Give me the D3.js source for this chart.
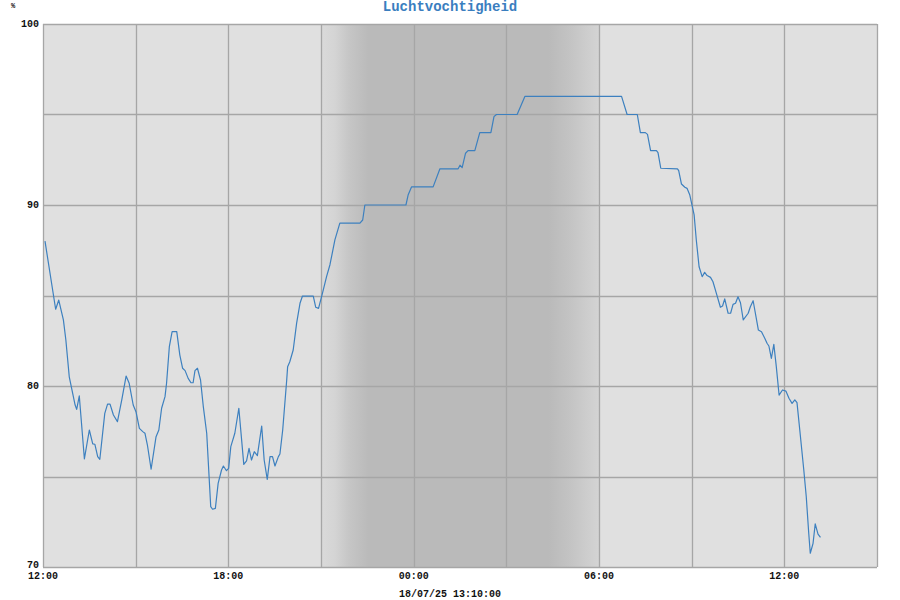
<!DOCTYPE html>
<html>
<head>
<meta charset="utf-8">
<script src="https://cdn.jsdelivr.net/npm/d3@7"></script>
<style>
  html, body { margin: 0; padding: 0; background: #ffffff; }
  svg { display: block; }
  text { font-family: "Liberation Mono", "DejaVu Sans Mono", monospace; font-weight: bold; }
</style>
</head>
<body>
<svg id="chart" width="900" height="600"></svg>
<script>
// ---- data ----
const title = "Luchtvochtigheid";
const unitLabel = "%";
const footerLabel = "18/07/25 13:10:00";
const startTime = "2025-07-17T12:00:00";
const endTime = "2025-07-18T15:00:00";
const nightStart = "2025-07-17T21:00:00";
const nightEnd = "2025-07-18T06:00:00";
const yTicks = [70, 80, 90, 100];
const yGrid = [70, 75, 80, 85, 90, 95, 100];
// hours since 17/07 12:00
const hours = [
  0.065, 0.41, 0.51, 0.66, 0.74, 0.85, 1.04, 1.09, 1.175, 1.34,
  1.50, 1.61, 1.68, 1.77, 1.84, 2.00, 2.09, 2.17, 2.28, 2.41,
  2.55, 2.69, 2.79, 2.92, 3.01, 3.12, 3.23, 3.30, 3.38, 3.50,
  3.66, 3.75, 3.84, 3.95, 4.00, 4.09, 4.18, 4.33, 4.43, 4.52,
  4.60, 4.70, 4.79, 4.86, 4.92, 5.00, 5.10, 5.19, 5.30, 5.43,
  5.49, 5.58, 5.67, 5.78, 5.84, 5.94, 6.01, 6.08, 6.21, 6.34,
  6.50, 6.59, 6.67, 6.75, 6.84, 6.94, 7.08, 7.16, 7.26, 7.35,
  7.43, 7.51, 7.62, 7.67, 7.76, 7.89, 7.92, 7.99, 8.10, 8.21,
  8.32, 8.40, 8.75, 8.83, 8.92, 9.05, 9.18, 9.29, 9.45, 9.61,
  10.26, 10.35, 10.42, 11.75, 11.82, 11.93, 12.63, 12.85, 13.44, 13.50,
  13.57, 13.68, 13.76, 13.98, 14.14, 14.50, 14.60, 14.68, 15.35, 15.60,
  18.73, 18.91, 19.24, 19.34, 19.50, 19.57, 19.67, 19.86, 19.91, 20.00,
  20.54, 20.58, 20.67, 20.78, 20.85, 20.94, 21.08, 21.15, 21.24, 21.34,
  21.42, 21.50, 21.61, 21.69, 21.80, 21.93, 22.00, 22.07, 22.18, 22.26,
  22.34, 22.42, 22.50, 22.58, 22.67, 22.83, 22.90, 22.99, 23.16, 23.26,
  23.37, 23.44, 23.50, 23.58, 23.66, 23.74, 23.83, 23.94, 24.05, 24.15,
  24.25, 24.34, 24.41, 24.50, 24.63, 24.71, 24.79, 24.84, 24.93, 25.00,
  25.09, 25.17
];
const humidity = [
  88.0, 84.24, 84.75, 83.65, 82.54, 80.51, 78.95, 78.71, 79.45, 75.97,
  77.57, 76.8, 76.78, 76.1, 75.95, 78.49, 79.0, 79.0, 78.4, 78.03,
  79.23, 80.55, 80.15, 78.95, 78.58, 77.66, 77.48, 77.39, 76.74, 75.4,
  77.2, 77.57, 78.77, 79.41, 80.15, 82.17, 83.0, 83.0, 81.71, 80.98,
  80.85, 80.42, 80.18, 80.18, 80.85, 80.98, 80.33, 78.86, 77.39, 73.33,
  73.19, 73.24, 74.62, 75.36, 75.58, 75.32, 75.45, 76.65, 77.39, 78.77,
  75.67, 75.86, 76.56, 75.91, 76.37, 76.15, 77.79, 75.91, 74.84, 76.10,
  76.10, 75.58, 76.1, 76.24, 77.57, 80.33, 81.07, 81.34, 81.99, 83.46,
  84.57, 84.97, 84.97, 84.35, 84.29, 85.15, 86.04, 86.7, 88.07, 89.0,
  89.0, 89.17, 90.0, 90.0, 90.55, 91.0, 91.0, 92.0, 92.0, 92.2,
  92.06, 92.86, 93.0, 93.0, 94.0, 94.0, 94.88, 95.0, 95.0, 96.0,
  96.0, 95.0, 95.0, 94.0, 94.0, 93.9, 93.0, 93.0, 92.89, 92.03,
  92.0, 91.9, 91.16, 90.98, 90.92, 90.55, 89.45, 88.07, 86.59, 86.04,
  86.28, 86.1, 86.0, 85.76, 85.12, 84.35, 84.42, 84.81, 84.02, 84.02,
  84.51, 84.57, 84.93, 84.6, 83.65, 84.02, 84.38, 84.71, 83.09, 83.0,
  82.63, 82.36, 82.21, 81.53, 82.3, 81.07, 79.5, 79.78, 79.72, 79.32,
  79.04, 79.23, 79.08, 77.57, 75.36, 73.88, 71.86, 70.76, 71.31, 72.38,
  71.82, 71.64
];

// ---- chart ----
const W = 900, H = 600;
const margin = { top: 24, right: 23, bottom: 33, left: 43 };
const svg = d3.select("#chart");
const t0 = new Date(startTime);
const points = hours.map((h, i) => ({ t: new Date(t0.getTime() + h * 3600000), v: humidity[i] }));
const plotBottom = H - margin.bottom;

const x = d3.scaleTime().domain([new Date(startTime), new Date(endTime)]).range([margin.left, W - margin.right]);
const y = d3.scaleLinear().domain([70, 100]).range([plotBottom, margin.top]);

// gradient for night
const defs = svg.append("defs");
const grad = defs.append("linearGradient").attr("id", "night").attr("x1", "0%").attr("x2", "100%").attr("y1", "0%").attr("y2", "0%");
[[0, "#dadada"], [0.05, "#d4d4d4"], [0.10, "#c6c6c6"], [0.17, "#bababa"], [0.82, "#bababa"], [0.9, "#c4c4c4"], [1, "#d4d4d4"]]
  .forEach(([o, c]) => grad.append("stop").attr("offset", o).attr("stop-color", c));

// plot background
svg.append("rect")
  .attr("x", margin.left).attr("y", margin.top)
  .attr("width", W - margin.left - margin.right)
  .attr("height", plotBottom - margin.top)
  .attr("fill", "#e0e0e0");

svg.append("rect")
  .attr("x", x(new Date(nightStart))).attr("y", margin.top)
  .attr("width", x(new Date(nightEnd)) - x(new Date(nightStart)))
  .attr("height", plotBottom - margin.top)
  .attr("fill", "url(#night)");

// grid
const gridColor = "#a6a6a6";
svg.append("g").selectAll("line")
  .data(x.ticks(d3.timeHour.every(3)))
  .join("line")
  .attr("x1", d => Math.round(x(d)) + 0.5).attr("x2", d => Math.round(x(d)) + 0.5)
  .attr("y1", margin.top).attr("y2", plotBottom)
  .attr("stroke", gridColor).attr("stroke-width", 1.3);

svg.append("g").selectAll("line")
  .data(yGrid)
  .join("line")
  .attr("x1", margin.left).attr("x2", W - margin.right)
  .attr("y1", d => Math.round(y(d)) + 0.5).attr("y2", d => Math.round(y(d)) + 0.5)
  .attr("stroke", gridColor).attr("stroke-width", 1.3);

// line
const line = d3.line().x(d => x(d.t)).y(d => y(d.v));
svg.append("path")
  .datum(points)
  .attr("d", line)
  .attr("fill", "none")
  .attr("stroke", "#3d80bf")
  .attr("stroke-width", 1.2)
  .attr("stroke-linejoin", "round");

// y labels (kept inside the plot's vertical extent)
svg.append("g").selectAll("text")
  .data(yTicks)
  .join("text")
  .attr("x", margin.left - 4)
  .attr("y", d => Math.min(y(d) + 3, plotBottom + 0.5))
  .attr("text-anchor", "end")
  .attr("font-size", 10)
  .attr("fill", "#111")
  .text(d => d);

// x labels
const fmt = d3.timeFormat("%H:%M");
svg.append("g").selectAll("text")
  .data(x.ticks(d3.timeHour.every(6)).filter(d => x(d) < W - margin.right - 1))
  .join("text")
  .attr("x", d => x(d))
  .attr("y", plotBottom + 11.5)
  .attr("text-anchor", "middle")
  .attr("font-size", 10)
  .attr("fill", "#111")
  .text(d => fmt(d));

// unit
svg.append("text").attr("x", 13).attr("y", 8).attr("text-anchor", "middle")
  .attr("font-size", 7).attr("fill", "#111").text(unitLabel);

// title
svg.append("text").attr("x", W / 2).attr("y", 11).attr("text-anchor", "middle")
  .attr("font-size", 14).attr("fill", "#3a7ebf").text(title);

// footer
svg.append("text").attr("x", W / 2).attr("y", 597).attr("text-anchor", "middle")
  .attr("font-size", 10).attr("fill", "#111").text(footerLabel);
</script>
</body>
</html>
